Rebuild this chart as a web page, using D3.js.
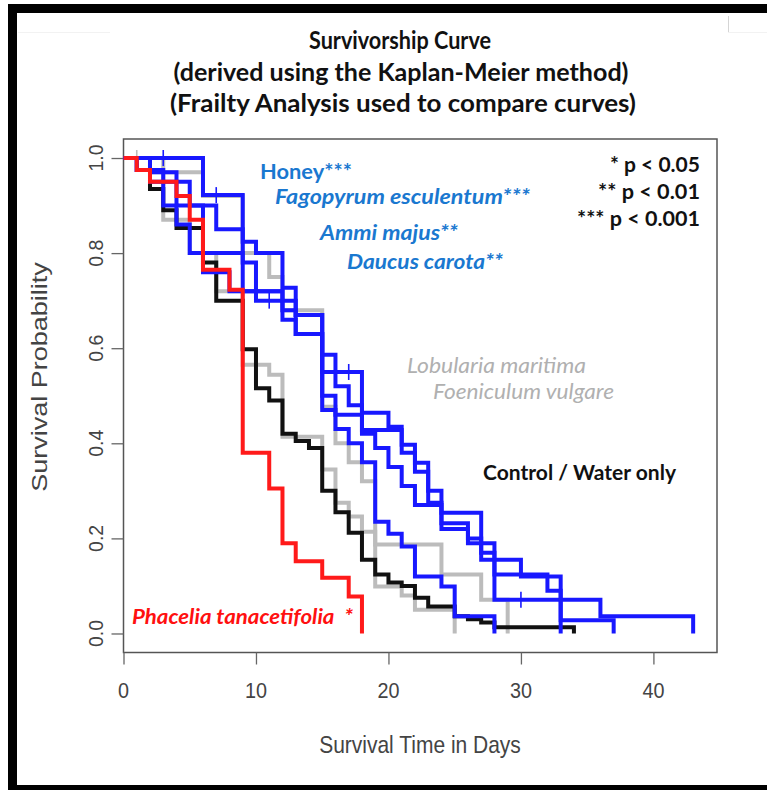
<!DOCTYPE html>
<html><head><meta charset="utf-8">
<script src="https://cdn.jsdelivr.net/npm/d3@7"></script>
<style>html,body{margin:0;padding:0;background:#fff;}svg{display:block;}</style>
</head><body>
<script>
// ---------- data ----------
const titleLines = ["Survivorship Curve", "(derived using the Kaplan-Meier method)", "(Frailty Analysis used to compare curves)"];
const xTicks = [0, 10, 20, 30, 40];
const yTicks = [0.0, 0.2, 0.4, 0.6, 0.8, 1.0];
const yTickLabels = ["0.0", "0.2", "0.4", "0.6", "0.8", "1.0"];
const xTitle = "Survival Time in Days";
const yTitle = "Survival Probability";

// step points [day, survival]
const controlWater = [[0,1],[2,0.935],[3,0.89],[4,0.853],[6,0.78],[7,0.70],[9,0.598],[10,0.516],[11,0.49],[12,0.42],[13,0.405],[14,0.39],[15,0.30],[16,0.255],[17,0.212],[18,0.155],[19,0.124],[20,0.107],[21,0.10],[22,0.075],[23,0.057],[25,0.036],[26,0.03],[27,0.023],[28,0.013],[34,0]];
const phacelia = [[0,1],[1,0.975],[2,0.95],[4,0.92],[5,0.87],[6,0.765],[8,0.723],[9,0.38],[11,0.305],[12,0.19],[13,0.152],[15,0.117],[17,0.078],[18,0]];
const lobularia = [[0,1],[2,0.97],[3,0.87],[5,0.80],[7,0.72],[9,0.565],[11,0.544],[12,0.414],[15,0.345],[16,0.275],[17,0.246],[18,0.214],[19,0.099],[21,0.08],[22,0.05],[25,0]];
const foeniculum = [[0,1],[3,0.97],[6,0.92],[9,0.80],[11,0.75],[12,0.68],[15,0.477],[16,0.40],[17,0.36],[18,0.32],[19,0.187],[24,0.124],[27,0.071],[29,0]];
const honey = [[0,1],[6,0.922],[9,0.824],[10,0.80],[12,0.727],[13,0.67],[15,0.586],[16,0.52],[17,0.48],[18,0.428],[21,0.38],[22,0.34],[23,0.30],[24,0.232],[26,0.20],[27,0.17],[28,0.071],[36,0.036],[43,0]];
const fagopyrum = [[0,1],[1,0.975],[3,0.95],[5,0.90],[7,0.85],[9,0.78],[10,0.72],[12,0.70],[13,0.63],[15,0.55],[18,0.464],[20,0.435],[21,0.397],[22,0.359],[23,0.275],[24,0.254],[27,0.155],[30,0.12],[33,0.028],[37,0]];
const ammi = [[0,1],[1,0.975],[2,0.95],[3,0.90],[4,0.86],[5,0.80],[6,0.76],[8,0.72],[10,0.70],[12,0.66],[13,0.63],[15,0.50],[16,0.46],[18,0.42],[19,0.39],[20,0.35],[21,0.31],[22,0.27],[24,0.22],[26,0.19],[28,0.124],[32,0.09],[33,0]];
const daucus = [[0,1],[2,0.97],[4,0.9],[6,0.8],[9,0.72],[12,0.68],[13,0.67],[15,0.47],[16,0.43],[17,0.40],[18,0.36],[19,0.235],[20,0.21],[21,0.183],[22,0.12],[24,0.099],[25,0.036],[28,0]];

// censor mark days per curve
const censorLobularia = [1];
const censorHoney = [3, 7, 30];
const censorFagopyrum = [17, 28];
const censorAmmi = [11];

const seriesNames = ["lobularia","foeniculum","controlWater","honey","fagopyrum","ammi","daucus","phacelia"];

// annotation texts
const sigLegend = ["* p < 0.05", "** p < 0.01", "*** p < 0.001"];
const blueLabels = ["Honey***", "Fagopyrum esculentum***", "Ammi majus**", "Daucus carota**"];
const grayLabels = ["Lobularia maritima", "Foeniculum vulgare"];
const controlLabel = "Control / Water only";
const phaceliaLabel = "Phacelia tanacetifolia  *";

// ---------- drawing ----------
const W = 767, H = 790;
const BLUE = "#1818ff", RED = "#ff1a1a", GRAY = "#bcbcbc", BLACK = "#111111";
const svg = d3.select("body").append("svg").attr("width", W).attr("height", H);
svg.append("rect").attr("width", W).attr("height", H).attr("fill", "#fff");

// outer black frame (screenshot border)
svg.append("rect").attr("x", 8).attr("y", 4).attr("width", W - 8).attr("height", 9).attr("fill", "#000");
svg.append("rect").attr("x", 8).attr("y", 4).attr("width", 9).attr("height", H - 4).attr("fill", "#000");
svg.append("rect").attr("x", 8).attr("y", 785).attr("width", W - 8).attr("height", 5).attr("fill", "#000");
svg.append("line").attr("x1", 18).attr("x2", 110).attr("y1", 32.5).attr("y2", 32.5).attr("stroke", "#f2f2f2");
svg.append("line").attr("x1", 728.5).attr("x2", 728.5).attr("y1", 16).attr("y2", 32).attr("stroke", "#d5d5d5");
svg.append("line").attr("x1", 728).attr("x2", 767).attr("y1", 32.5).attr("y2", 32.5).attr("stroke", "#f2f2f2");

const x = d3.scaleLinear().domain([0, 44.8]).range([123.5, 717]);
const y = d3.scaleLinear().domain([-0.04, 1.04]).range([652.5, 139]);

// title
const titleFont = "Lato, 'Open Sans', sans-serif";
const titleX = [400, 401, 403], titleW = [182, 455, 466];
svg.append("g").selectAll("text").data(titleLines).join("text")
  .attr("x", (d, i) => titleX[i]).attr("y", (d, i) => 49 + i * 31.5)
  .attr("text-anchor", "middle").attr("font-family", titleFont)
  .attr("font-weight", "bold").attr("font-size", 24).attr("fill", "#111")
  .attr("textLength", (d, i) => titleW[i]).attr("lengthAdjust", "spacingAndGlyphs")
  .text(d => d);

// plot frame
svg.append("rect").attr("x", x.range()[0]).attr("y", y.range()[1])
  .attr("width", x.range()[1] - x.range()[0]).attr("height", y.range()[0] - y.range()[1])
  .attr("fill", "none").attr("stroke", "#555").attr("stroke-width", 1.5);

const axisFont = "'Liberation Sans', Arial, sans-serif";
// x axis
const xAxis = d3.axisBottom(x).tickValues(xTicks).tickSize(12).tickFormat("");
const gx = svg.append("g").attr("transform", `translate(0,${y.range()[0]})`).call(xAxis);
gx.select(".domain").remove();
gx.selectAll(".tick line").attr("stroke", "#666").attr("stroke-width", 1.3);
svg.append("g").selectAll("text").data(xTicks).join("text")
  .attr("transform", d => `translate(${x(d)},698) scale(0.9,1)`).attr("text-anchor", "middle")
  .attr("font-family", axisFont).attr("font-size", 22).attr("fill", "#444").text(d => d3.format("d")(d));

// y axis
const yAxis = d3.axisLeft(y).tickValues(yTicks).tickSize(12).tickFormat("");
const gy = svg.append("g").attr("transform", `translate(${x.range()[0]},0)`).call(yAxis);
gy.select(".domain").remove();
gy.selectAll(".tick line").attr("stroke", "#666").attr("stroke-width", 1.3);
svg.append("g").selectAll("text").data(yTicks).join("text")
  .attr("transform", d => `translate(103,${y(d)}) rotate(-90)`).attr("text-anchor", "middle")
  .attr("font-family", axisFont).attr("font-size", 19.5).attr("fill", "#444").text((d, i) => yTickLabels[i]);

// axis titles
svg.append("text").attr("transform", "translate(420,753) scale(0.875,1)").attr("text-anchor", "middle")
  .attr("font-family", axisFont).attr("font-size", 24).attr("fill", "#444").text(xTitle);
svg.append("text").attr("transform", "translate(47,377) scale(0.82,1) rotate(-90)").attr("text-anchor", "middle")
  .attr("font-family", axisFont).attr("font-size", 27).attr("fill", "#444").text(yTitle);

// curves
const curves = {lobularia, foeniculum, controlWater, honey, fagopyrum, ammi, daucus, phacelia};
const colors = {lobularia: GRAY, foeniculum: GRAY, controlWater: BLACK, honey: BLUE, fagopyrum: BLUE, ammi: BLUE, daucus: BLUE, phacelia: RED};
const censors = {lobularia: censorLobularia, honey: censorHoney, fagopyrum: censorFagopyrum, ammi: censorAmmi};
const line = d3.line().x(d => x(d[0])).y(d => y(d[1])).curve(d3.curveStepAfter);
const gc = svg.append("g");
function survAt(data, t) { let s = 1; for (const p of data) { if (p[0] <= t) s = p[1]; } return s; }
seriesNames.forEach(name => {
  const data = curves[name];
  gc.append("path").datum(data).attr("d", line).attr("fill", "none")
    .attr("stroke", colors[name]).attr("stroke-width", 4).attr("stroke-linejoin", "miter").attr("stroke-linecap", "butt");
  (censors[name] || []).forEach(t => {
    const s = survAt(data, t);
    gc.append("line").attr("x1", x(t)).attr("x2", x(t)).attr("y1", y(s) - 8).attr("y2", y(s) + 8)
      .attr("stroke", colors[name]).attr("stroke-width", 1.6);
  });
});

// annotations
const annFont = "Lato, 'Open Sans', sans-serif";
const TXTBLUE = "#1a78d0";
const blueX = [260, 275, 320, 347], blueY = [179, 204, 240, 269], blueW = [92, 255, 138, 156];
svg.append("g").selectAll("text").data(blueLabels).join("text")
  .attr("x", (d, i) => blueX[i]).attr("y", (d, i) => blueY[i])
  .attr("font-family", annFont).attr("font-weight", "bold").attr("font-size", 21)
  .attr("textLength", (d, i) => blueW[i]).attr("lengthAdjust", "spacingAndGlyphs")
  .attr("font-style", (d, i) => i === 0 ? "normal" : "italic").attr("fill", TXTBLUE).text(d => d);
const sigX = [610, 598, 577], sigY = [172, 199, 226];
svg.append("g").selectAll("text").data(sigLegend).join("text")
  .attr("x", (d, i) => sigX[i]).attr("y", (d, i) => sigY[i])
  .attr("textLength", (d, i) => 700 - sigX[i]).attr("lengthAdjust", "spacingAndGlyphs")
  .attr("font-family", annFont).attr("font-weight", "bold").attr("font-size", 20).attr("fill", "#111").text(d => d);
const grayX = [407, 433], grayY = [373, 399], grayW = [179, 181];
svg.append("g").selectAll("text").data(grayLabels).join("text")
  .attr("x", (d, i) => grayX[i]).attr("y", (d, i) => grayY[i])
  .attr("textLength", (d, i) => grayW[i]).attr("lengthAdjust", "spacingAndGlyphs")
  .attr("font-family", annFont).attr("font-style", "italic").attr("font-size", 21).attr("fill", "#b0b0b0").text(d => d);
svg.append("text").attr("x", 483).attr("y", 480).attr("font-family", annFont).attr("font-weight", "bold")
  .attr("textLength", 193).attr("lengthAdjust", "spacingAndGlyphs")
  .attr("font-size", 20).attr("fill", "#111").text(controlLabel);
svg.append("text").attr("x", 132).attr("y", 624).attr("font-family", annFont).attr("font-weight", "bold")
  .attr("textLength", 221).attr("lengthAdjust", "spacingAndGlyphs")
  .attr("font-style", "italic").attr("font-size", 21).attr("fill", "#ff1010").attr("xml:space", "preserve").text(phaceliaLabel);
</script>
</body></html>
